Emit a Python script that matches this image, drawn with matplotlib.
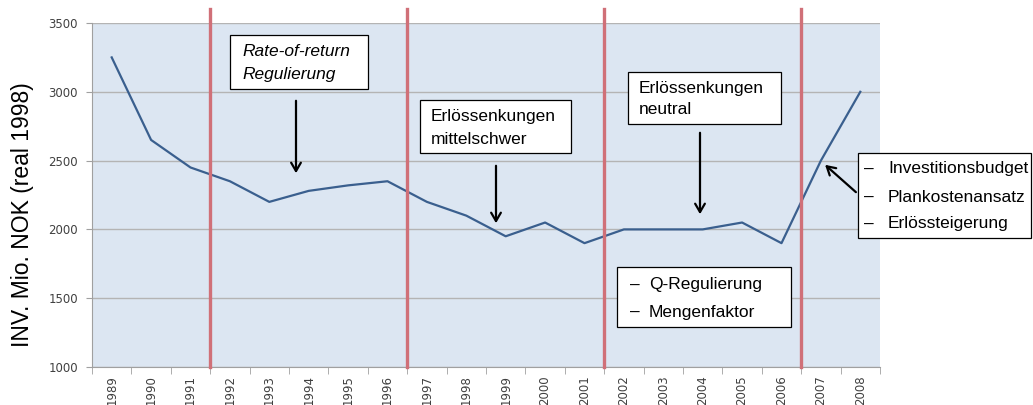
import matplotlib
matplotlib.use("Agg")
import matplotlib.pyplot as plt
from matplotlib.patches import Rectangle, FancyArrowPatch

years = ["1989", "1990", "1991", "1992", "1993", "1994", "1995", "1996", "1997", "1998",
         "1999", "2000", "2001", "2002", "2003", "2004", "2005", "2006", "2007", "2008"]
investment = [3250, 2650, 2450, 2350, 2200, 2280, 2320, 2350, 2200, 2100,
              1950, 2050, 1900, 2000, 2000, 2000, 2050, 1900, 2500, 3000]
regime_breaks = [2.5, 7.5, 12.5, 17.5]
y_ticks = [1000, 1500, 2000, 2500, 3000, 3500]
ylabel = "INV. Mio. NOK (real 1998)"

W, H = 1033, 405
fig = plt.figure(figsize=(W / 100, H / 100), dpi=100)
fig.patch.set_facecolor("white")

def fx(x):
    return x / W

def fy(y):
    return 1 - y / H

ax = fig.add_axes([fx(92), fy(367), fx(880) - fx(92), fy(23) - fy(367)])
ax.set_facecolor("#DCE6F2")
x = list(range(len(years)))
ax.set_xlim(-0.5, len(years) - 0.5)
ax.set_ylim(1000, 3500)
ax.set_yticks(y_ticks)
ax.set_yticklabels([str(v) for v in y_ticks], fontsize=8.5, color="#404040")
ax.set_xticks(x)
ax.set_xticklabels(years, rotation=90, fontsize=8.5, color="#404040")
ax.set_xticks([i - 0.5 for i in range(len(years) + 1)], minor=True)
ax.tick_params(axis="x", which="major", length=0, pad=6)
ax.tick_params(axis="x", which="minor", length=5, color="#A0A0A0")
ax.tick_params(axis="y", length=4, color="#A0A0A0", pad=6)
for s in ["top", "right"]:
    ax.spines[s].set_visible(False)
for s in ["left", "bottom"]:
    ax.spines[s].set_color("#A0A0A0")
ax.grid(axis="y", color="#B4B4B4", lw=1.0)
ax.set_axisbelow(True)

ax.plot(x, investment, color="#3A5F8E", lw=1.6, zorder=3)
for b in regime_breaks:
    ax.axvline(b, ymin=0, ymax=1.04, color="#D07078", lw=2.4, clip_on=False, zorder=4)

fig.text(fx(23), fy(215), ylabel, rotation=90, fontsize=16.5, family="Liberation Sans",
         ha="center", va="center")

tfam = "Liberation Sans"

def box(x0, y0, x1, y1):
    fig.add_artist(Rectangle((fx(x0), fy(y1)), fx(x1) - fx(x0), fy(y0) - fy(y1),
                             transform=fig.transFigure, facecolor="white",
                             edgecolor="black", lw=0.9, zorder=5))

def txt(x, y, s, **kw):
    fig.text(fx(x), fy(y), s, fontsize=12.5, family=tfam, ha="left", va="center",
             zorder=6, **kw)

def arrow(x0, y0, x1, y1):
    fig.add_artist(FancyArrowPatch(
        (fx(x0), fy(y0)), (fx(x1), fy(y1)), transform=fig.transFigure,
        arrowstyle="->,head_length=6,head_width=3.5", lw=1.6, color="black",
        mutation_scale=1, zorder=6))

# Box 1
box(230, 35, 368, 89)
txt(242, 51, "Rate-of-return", style="italic")
txt(242, 74, "Regulierung", style="italic")
arrow(296, 98, 296, 176)

# Box 2
box(420, 100, 571, 153)
txt(431, 117, "Erlössenkungen")
txt(431, 139, "mittelschwer")
arrow(496, 163, 496, 226)

# Box 3
box(628, 72, 781, 124)
txt(639, 88, "Erlössenkungen")
txt(639, 110, "neutral")
arrow(700, 130, 700, 217)

# Q box
box(617, 267, 791, 327)
txt(630, 285, "–")
txt(649, 285, "Q-Regulierung")
txt(630, 312, "–")
txt(649, 312, "Mengenfaktor")

# Right box
box(858, 153, 1031, 238)
for yy, s in [(169, "Investitionsbudget"), (197, "Plankostenansatz"), (224, "Erlössteigerung")]:
    txt(864, yy, "–")
    txt(888, yy, s)
arrow(858, 194, 823, 163)

fig.savefig("out.png", dpi=100)
